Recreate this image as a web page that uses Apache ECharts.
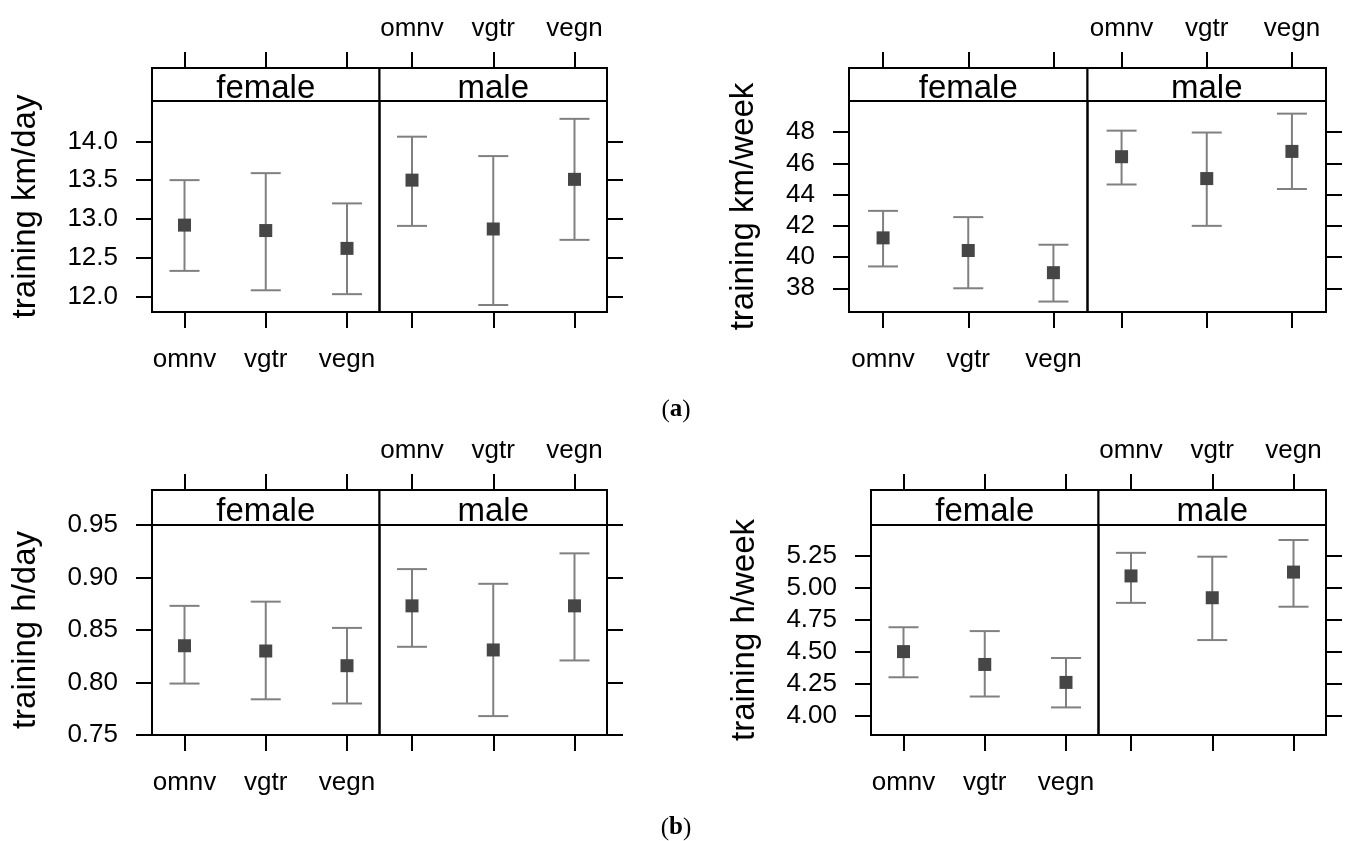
<!DOCTYPE html>
<html>
<head>
<meta charset="utf-8">
<title>training effects</title>
<script src="https://cdn.jsdelivr.net/npm/echarts@6/dist/echarts.min.js"></script>
<style>
  html, body { margin: 0; background: #fff; }
  #main { width: 1346px; height: 841px; }
</style>
</head>
<body>
<div id="main"></div>
<script>
// categories
var groups = ['omnv', 'vgtr', 'vegn'];
var sexes = ['female', 'male'];

// values: female omnv, vgtr, vegn, then male omnv, vgtr, vegn
var kmDayMean  = [12.92, 12.85, 12.62, 13.50, 12.87, 13.51];
var kmDayLower = [12.33, 12.08, 12.03, 12.91, 11.89, 12.73];
var kmDayUpper = [13.50, 13.59, 13.20, 14.06, 13.81, 14.29];

var kmWeekMean  = [41.23, 40.42, 39.00, 46.43, 45.03, 46.77];
var kmWeekLower = [39.40, 38.00, 37.15, 44.65, 42.00, 44.36];
var kmWeekUpper = [42.96, 42.56, 40.79, 48.10, 47.98, 49.19];

var hDayMean  = [0.835, 0.830, 0.816, 0.873, 0.831, 0.873];
var hDayLower = [0.799, 0.784, 0.780, 0.834, 0.768, 0.821];
var hDayUpper = [0.873, 0.877, 0.852, 0.908, 0.894, 0.923];

var hWeekMean  = [4.50, 4.40, 4.26, 5.09, 4.92, 5.12];
var hWeekLower = [4.30, 4.15, 4.065, 4.88, 4.59, 4.85];
var hWeekUpper = [4.69, 4.66, 4.45, 5.27, 5.24, 5.37];

// tick labels
var kmDayTicks = [12.0, 12.5, 13.0, 13.5, 14.0];
var kmWeekTicks = [38, 40, 42, 44, 46, 48];
var hDayTicks = [0.75, 0.80, 0.85, 0.90, 0.95];
var hWeekTicks = [4.00, 4.25, 4.50, 4.75, 5.00, 5.25];

var captions = ['a', 'b'];

var FONT = "'Liberation Sans', Arial, sans-serif";
var SERIF = "'Liberation Serif', serif";

// layout of the four figures
var panels = [
  { name: 'training km/day', mean: kmDayMean, lower: kmDayLower, upper: kmDayUpper,
    ticks: kmDayTicks, digits: 1, min: 11.80, max: 14.52,
    left: 152, right: 607, top: 68, strip: 101, bottom: 312, nameGap: 110 },
  { name: 'training km/week', mean: kmWeekMean, lower: kmWeekLower, upper: kmWeekUpper,
    ticks: kmWeekTicks, digits: 0, min: 36.48, max: 50.0,
    left: 849, right: 1326, top: 68, strip: 101, bottom: 312, nameGap: 89 },
  { name: 'training h/day', mean: hDayMean, lower: hDayLower, upper: hDayUpper,
    ticks: hDayTicks, digits: 2, min: 0.75, max: 0.95,
    left: 152, right: 607, top: 490, strip: 525, bottom: 735, nameGap: 110 },
  { name: 'training h/week', mean: hWeekMean, lower: hWeekLower, upper: hWeekUpper,
    ticks: hWeekTicks, digits: 2, min: 3.85, max: 5.487,
    left: 871, right: 1326, top: 490, strip: 525, bottom: 735, nameGap: 110 }
];

var tickStyle = { color: '#000', width: 2 };

function renderErrorBar(params, api) {
  var x = api.value(0);
  var lo = api.coord([x, api.value(2)]);
  var hi = api.coord([x, api.value(3)]);
  var w = 15;
  var st = { stroke: '#808080', lineWidth: 2 };
  return {
    type: 'group',
    children: [
      { type: 'line', shape: { x1: lo[0], y1: lo[1], x2: hi[0], y2: hi[1] }, style: st },
      { type: 'line', shape: { x1: lo[0] - w, y1: lo[1], x2: lo[0] + w, y2: lo[1] }, style: st },
      { type: 'line', shape: { x1: hi[0] - w, y1: hi[1], x2: hi[0] + w, y2: hi[1] }, style: st }
    ]
  };
}

var grids = [], xAxes = [], yAxes = [], series = [], graphics = [];

panels.forEach(function (p) {
  var w = (p.right - p.left) / 2;
  sexes.forEach(function (sex, s) {
    var g = grids.length;
    var gl = p.left + s * w;
    grids.push({
      left: gl, top: p.strip, width: w, height: p.bottom - p.strip,
      show: true, borderColor: '#000', borderWidth: 2
    });
    // bottom + top category axes
    ['bottom', 'top'].forEach(function (pos) {
      var showLabel = (pos === 'bottom') ? s === 0 : s === 1;
      xAxes.push({
        gridIndex: g, type: 'value', min: 0.6, max: 3.4, position: pos,
        offset: pos === 'top' ? p.strip - p.top : 0,
        axisLine: { show: false }, splitLine: { show: false },
        axisTick: { show: true, length: 16, lineStyle: tickStyle, customValues: [1, 2, 3] },
        axisLabel: {
          show: showLabel, customValues: [1, 2, 3],
          formatter: function (v) { return groups[Math.round(v) - 1]; },
          margin: pos === 'top' ? 26 : 35, fontSize: 26, color: '#000', fontFamily: FONT
        }
      });
    });
    yAxes.push({
      gridIndex: g, type: 'value', min: p.min, max: p.max,
      position: s === 0 ? 'left' : 'right',
      axisLine: { show: false }, splitLine: { show: false },
      axisTick: { show: true, length: 16, lineStyle: tickStyle, customValues: p.ticks },
      axisLabel: {
        show: s === 0, customValues: p.ticks,
        formatter: function (v) { return v.toFixed(p.digits); },
        margin: 34, fontSize: 26, color: '#000', fontFamily: FONT
      },
      name: s === 0 ? p.name : '',
      nameLocation: 'middle', nameRotate: 90, nameGap: p.nameGap,
      nameTextStyle: { fontSize: 33, color: '#000', fontFamily: FONT }
    });

    var rows = [], pts = [];
    groups.forEach(function (grp, i) {
      var k = s * 3 + i;
      rows.push([i + 1, p.mean[k], p.lower[k], p.upper[k]]);
      pts.push([i + 1, p.mean[k]]);
    });
    series.push({
      type: 'custom', xAxisIndex: 2 * g, yAxisIndex: g,
      renderItem: renderErrorBar, encode: { x: 0, y: [1, 2, 3] },
      data: rows, clip: false, silent: true, z: 2
    });
    series.push({
      type: 'scatter', xAxisIndex: 2 * g, yAxisIndex: g,
      symbol: 'rect', symbolSize: 13, itemStyle: { color: '#464646', opacity: 1 },
      data: pts, silent: true, z: 3
    });

    // strip
    graphics.push({
      type: 'rect', z: 10,
      shape: { x: gl, y: p.top, width: w, height: p.strip - p.top },
      style: { fill: '#fff', stroke: '#000', lineWidth: 2 }
    });
    graphics.push({
      type: 'text', z: 11, x: gl + w / 2, y: (p.top + p.strip) / 2 + 4,
      style: { text: sex, fontSize: 33, fontFamily: FONT, fill: '#000', align: 'center', verticalAlign: 'middle' }
    });
  });
});

// captions (a), (b)
captions.forEach(function (c, i) {
  graphics.push({
    type: 'text', x: 676, y: i === 0 ? 410 : 828,
    style: {
      text: '{p|(}{b|' + c + '}{p|)}', align: 'center', verticalAlign: 'middle',
      fontSize: 25, fontFamily: SERIF, fill: '#000',
      rich: {
        p: { fontSize: 25, fontFamily: SERIF, fill: '#000' },
        b: { fontSize: 25, fontWeight: 'bold', fontFamily: SERIF, fill: '#000' }
      }
    }
  });
});

var chart = echarts.init(document.getElementById('main'));
chart.setOption({
  backgroundColor: '#fff',
  animation: false,
  grid: grids,
  xAxis: xAxes,
  yAxis: yAxes,
  series: series,
  graphic: graphics
});
</script>
</body>
</html>
